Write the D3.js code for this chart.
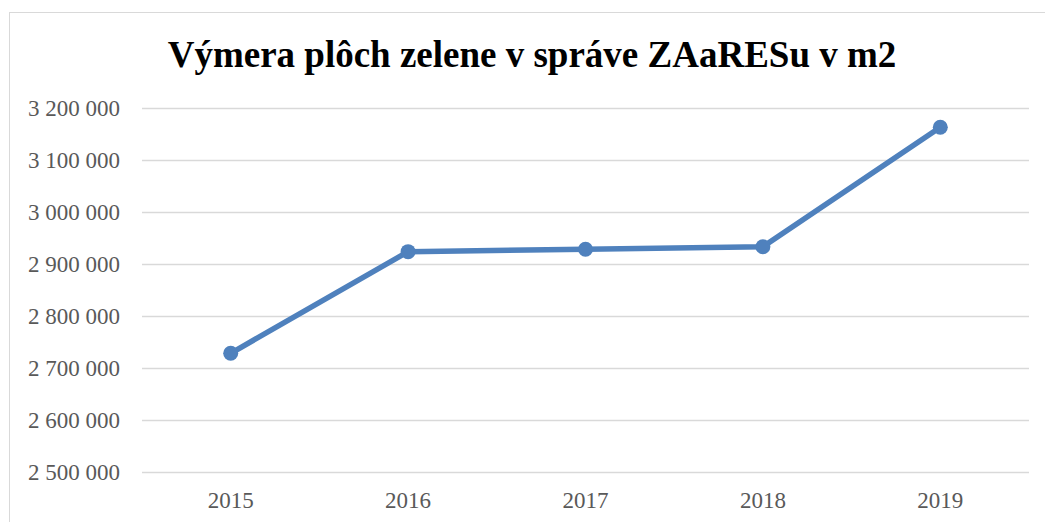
<!DOCTYPE html>
<html>
<head>
<meta charset="utf-8">
<script src="https://cdn.jsdelivr.net/npm/d3@7"></script>
<style>
  html, body { margin: 0; padding: 0; background: #fff; }
  svg { display: block; }
</style>
</head>
<body>
<svg id="chart" width="1045" height="522"></svg>
<script>
const title = "Výmera plôch zelene v správe ZAaRESu v m2";
const years = ["2015", "2016", "2017", "2018", "2019"];
const values = [2728300, 2923700, 2928300, 2933300, 3162900];
const yTicks = [2500000, 2600000, 2700000, 2800000, 2900000, 3000000, 3100000, 3200000];

const svg = d3.select("#chart");
const W = 1045, H = 522;
const plot = { left: 142, right: 1029, top: 108, bottom: 472 };

// chart frame
svg.append("rect")
  .attr("x", 9.5).attr("y", 12.5)
  .attr("width", W + 20).attr("height", H + 20)
  .attr("fill", "#fff").attr("stroke", "#d9d9d9").attr("stroke-width", 1);

const x = d3.scaleBand().domain(years).range([plot.left, plot.right]);
const y = d3.scaleLinear().domain([2500000, 3200000]).range([plot.bottom, plot.top]);

const fmt = v => d3.format(",")(v).replace(/,/g, " ");

// gridlines + y labels
const yAxis = d3.axisLeft(y).tickValues(yTicks).tickFormat(fmt)
  .tickSize(-(plot.right - plot.left)).tickPadding(22);
const gy = svg.append("g").attr("transform", `translate(${plot.left},0)`).call(yAxis);
gy.select(".domain").remove();
gy.selectAll(".tick line").attr("stroke", "#d9d9d9").attr("stroke-width", 1.5);
gy.selectAll(".tick text")
  .attr("fill", "#595959")
  .attr("font-family", "'Liberation Serif', 'Times New Roman', serif")
  .attr("font-size", 23)
  .attr("dy", "0.32em");

// x labels
const xAxis = d3.axisBottom(x).tickSize(0).tickPadding(20);
const gx = svg.append("g").attr("transform", `translate(0,${plot.bottom})`).call(xAxis);
gx.select(".domain").remove();
gx.selectAll(".tick text")
  .attr("fill", "#595959")
  .attr("font-family", "'Liberation Serif', 'Times New Roman', serif")
  .attr("font-size", 23);

// line
const data = years.map((yr, i) => ({ yr, v: values[i] }));
const line = d3.line().x(d => x(d.yr) + x.bandwidth() / 2).y(d => y(d.v));
svg.append("path").datum(data)
  .attr("d", line)
  .attr("fill", "none")
  .attr("stroke", "#4F81BD")
  .attr("stroke-width", 5.5)
  .attr("stroke-linejoin", "round")
  .attr("stroke-linecap", "round");

svg.selectAll("circle.pt").data(data).join("circle")
  .attr("class", "pt")
  .attr("cx", d => x(d.yr) + x.bandwidth() / 2)
  .attr("cy", d => y(d.v))
  .attr("r", 7.5)
  .attr("fill", "#4F81BD");

// title
svg.append("text")
  .attr("x", 532).attr("y", 67)
  .attr("text-anchor", "middle")
  .attr("font-family", "'Liberation Serif', 'Times New Roman', serif")
  .attr("font-weight", "bold")
  .attr("font-size", 37)
  .attr("fill", "#000")
  .text(title);
</script>
</body>
</html>
